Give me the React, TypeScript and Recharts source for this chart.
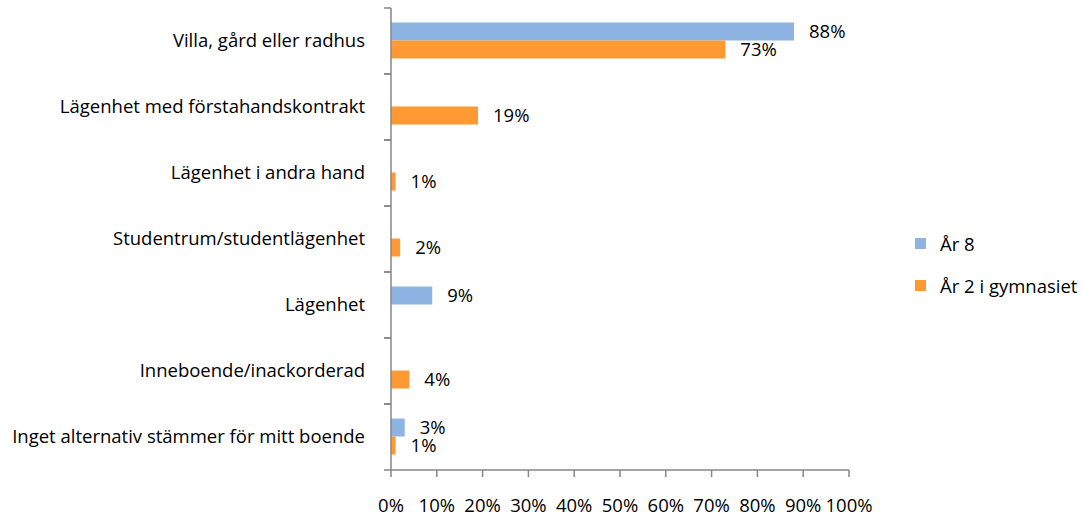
import React from "react";
import {
  BarChart,
  Bar,
  XAxis,
  YAxis,
  LabelList,
} from "recharts";

const categories = [
  "Villa, gård eller radhus",
  "Lägenhet med förstahandskontrakt",
  "Lägenhet i andra hand",
  "Studentrum/studentlägenhet",
  "Lägenhet",
  "Inneboende/inackorderad",
  "Inget alternativ stämmer för mitt boende",
];
const ar8: (number | null)[] = [88, null, null, null, 9, null, 3];
const ar2: (number | null)[] = [73, 19, 1, 2, null, 4, 1];
const xTicks = [0, 10, 20, 30, 40, 50, 60, 70, 80, 90, 100];
const seriesNames = ["År 8", "År 2 i gymnasiet"];
const colors = ["#8EB4E3", "#FF9933"];

const data = categories.map((c, i) => ({ name: c, a: ar8[i], b: ar2[i] }));

const W = 1082;
const H = 521;
const XH = 51;
const M = { top: 8, right: 233, bottom: 0, left: 0 };
const YW = 391;
const FONT = "'Open Sans', sans-serif";
const FS = 18.5;
const AXIS = "#868686";
const band = (H - M.top - M.bottom - XH) / categories.length;

const YTick = (props: any) => {
  const { y, payload } = props;
  const ax = M.left + YW;
  return (
    <g>
      <line x1={ax - 7} x2={ax} y1={y - band / 2} y2={y - band / 2} stroke={AXIS} strokeWidth={1.5} />
      <line x1={ax - 7} x2={ax} y1={y + band / 2} y2={y + band / 2} stroke={AXIS} strokeWidth={1.5} />
      <text x={ax - 26} y={y} dy="0.35em" textAnchor="end" fontFamily={FONT} fontSize={FS} fill="#000">
        {payload.value}
      </text>
    </g>
  );
};

const fmt = (v: any) => (v == null ? "" : `${v}%`);

export default function App() {
  return (
    <div style={{ position: "absolute", left: 0, top: 0, width: W, height: H, background: "#fff" }}>
      <BarChart
        width={W}
        height={H}
        data={data}
        layout="vertical"
        margin={M}
        barCategoryGap="22%"
        barGap={0}
      >
        <XAxis
          type="number"
          domain={[0, 100]}
          ticks={xTicks}
          tickFormatter={(v) => `${v}%`}
          axisLine={{ stroke: AXIS, strokeWidth: 1.5 }}
          tickLine={{ stroke: AXIS, strokeWidth: 1.5 }}
          tickSize={7}
          tickMargin={22}
          height={XH}
          tick={{ fontFamily: FONT, fontSize: FS, fill: "#000" }}
          interval={0}
        />
        <YAxis
          type="category"
          dataKey="name"
          width={YW}
          axisLine={{ stroke: AXIS, strokeWidth: 1.5 }}
          tickLine={false}
          tick={<YTick />}
          interval={0}
        />
        <Bar dataKey="a" name={seriesNames[0]} fill={colors[0]} isAnimationActive={false}>
          <LabelList dataKey="a" position="right" offset={15} formatter={fmt} style={{ fontFamily: FONT, fontSize: FS, fill: "#000" }} />
        </Bar>
        <Bar dataKey="b" name={seriesNames[1]} fill={colors[1]} isAnimationActive={false}>
          <LabelList dataKey="b" position="right" offset={15} formatter={fmt} style={{ fontFamily: FONT, fontSize: FS, fill: "#000" }} />
        </Bar>
      </BarChart>
      <div style={{ position: "absolute", left: 915, top: 222, fontFamily: FONT, fontSize: FS, color: "#000" }}>
        {seriesNames.map((n, i) => (
          <div key={n} style={{ display: "flex", alignItems: "center", height: 42, whiteSpace: "nowrap" }}>
            <div style={{ width: 11, height: 11, background: colors[i], marginRight: 14 }} />
            <span>{n}</span>
          </div>
        ))}
      </div>
    </div>
  );
}
